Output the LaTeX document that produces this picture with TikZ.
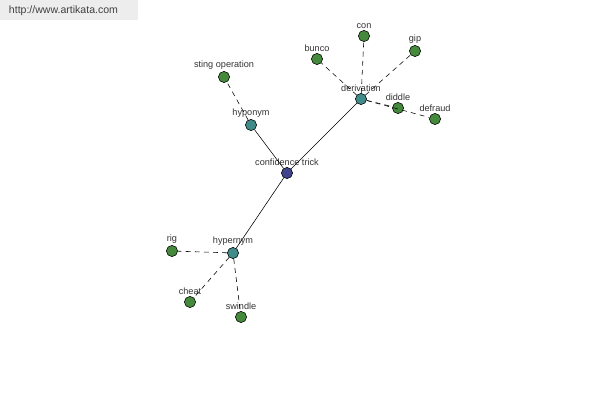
\documentclass[tikz,border=0pt]{standalone}
\usepackage{fontspec}
\setmainfont{Liberation Sans}
\definecolor{rootfill}{HTML}{40448C}
\definecolor{relfill}{HTML}{3F8C8A}
\definecolor{leaffill}{HTML}{458A3C}
\begin{document}
\begin{tikzpicture}[x=0.025cm, y=-0.025cm,
        word/.style={circle, draw, thin, minimum size=0.28cm, inner sep=0pt,
                label distance=-1pt},
        root/.style={word, fill=rootfill},
        rel/.style={word, fill=relfill},
        leaf/.style={word, fill=leaffill},
        tag/.style={font=\fontsize{6.5}{7}\selectfont, text=black!80, inner sep=1pt},
        strong/.style={thin},
        weak/.style={thin, dash pattern=on 3.5pt off 3pt}
    ]
    \useasboundingbox (0,0) rectangle (600,400);
    \fill[black!7] (0,0) rectangle (138,20);
    \node[anchor=west, font=\fontsize{7.5}{8}\selectfont, text=black!75] (site) at (4,11) {http://www.artikata.com};

    \node[root, label={[tag]above:confidence trick}] (trick) at (287,173) {};
    \node[rel, label={[tag]above:hyponym}] (hypo) at (251,125) {};
    \node[rel, label={[tag]above:derivation}] (deriv) at (361,99) {};
    \node[rel, label={[tag]above:hypernym}] (hyper) at (233,253) {};

    \node[leaf, label={[tag]above:sting operation}] (sting) at (224,77) {};
    \node[leaf, label={[tag]above:bunco}] (bunco) at (317,59) {};
    \node[leaf, label={[tag]above:con}] (con) at (364,36) {};
    \node[leaf, label={[tag]above:gip}] (gip) at (415,51) {};
    \node[leaf, label={[tag]above:diddle}] (diddle) at (398,108) {};
    \node[leaf, label={[tag]above:defraud}] (defraud) at (435,119) {};
    \node[leaf, label={[tag]above:rig}] (rig) at (172,251) {};
    \node[leaf, label={[tag]above:cheat}] (cheat) at (190,302) {};
    \node[leaf, label={[tag]above:swindle}] (swindle) at (241,317) {};

    \draw[strong] (trick) -- (hypo);
    \draw[strong] (trick) -- (deriv);
    \draw[strong] (trick) -- (hyper);
    \draw[weak] (hypo) -- (sting);
    \draw[weak] (deriv) -- (bunco);
    \draw[weak] (deriv) -- (con);
    \draw[weak] (deriv) -- (gip);
    \draw[weak] (deriv) -- (diddle);
    \draw[weak] (deriv) -- (defraud);
    \draw[weak] (hyper) -- (rig);
    \draw[weak] (hyper) -- (cheat);
    \draw[weak] (hyper) -- (swindle);
\end{tikzpicture}
\end{document}
